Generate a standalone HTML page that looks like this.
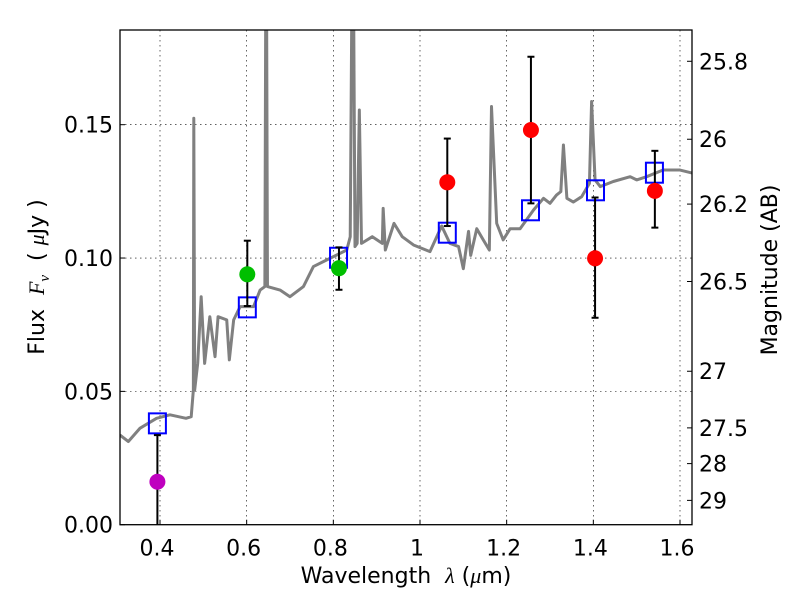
<!DOCTYPE html>
<html><head><meta charset="utf-8"><style>
body{margin:0;background:#fff}
svg{display:block;font-family:"DejaVu Sans","Liberation Sans",sans-serif}
</style></head><body>
<svg id="chart" width="800" height="600" viewBox="0 0 800 600" xmlns="http://www.w3.org/2000/svg">
<rect x="0" y="0" width="800" height="600" fill="#fff"/>
<g id="grid"></g>
<g id="plot"></g>
<rect x="120" y="30" width="572" height="494.7" fill="none" stroke="#000" stroke-width="1.3"/>
<g id="ticks"></g>
<text x="406" y="583" font-size="22" text-anchor="middle">Wavelength&#160;&#160;<tspan font-family="Liberation Serif" font-style="italic">λ</tspan> (<tspan font-family="Liberation Serif" font-style="italic">μ</tspan>m)</text>
<text transform="translate(44,277) rotate(-90)" font-size="22" text-anchor="middle">Flux&#160;&#160;<tspan font-family="Liberation Serif" font-style="italic">F</tspan><tspan font-family="Liberation Serif" font-style="italic" font-size="15" dy="5">ν</tspan><tspan dy="-5">&#160;&#160;( </tspan><tspan font-family="Liberation Serif" font-style="italic">μ</tspan>Jy )</text>
<text transform="translate(777,270) rotate(-90)" font-size="22" text-anchor="middle">Magnitude (AB)</text>
</svg>
<script>
const xTicks=[0.4,0.6,0.8,1.0,1.2,1.4,1.6];
const xTickLabels=["0.4","0.6","0.8","1","1.2","1.4","1.6"];
const yTicks=[0,0.05,0.10,0.15];
const yTickLabels=["0.00","0.05","0.10","0.15"];
const magTicks=[25.8,26,26.2,26.5,27,27.5,28,29];
const magTickLabels=["25.8","26","26.2","26.5","27","27.5","28","29"];
const specLam=[0.3077,0.327,0.354,0.392,0.423,0.46,0.472,0.477,0.478,0.48,0.487,0.495,0.503,0.515,0.527,0.534,0.554,0.56,0.57,0.585,0.616,0.631,0.642,0.645,0.648,0.677,0.7,0.731,0.754,0.785,0.831,0.839,0.845,0.85,0.855,0.86,0.865,0.89,0.913,0.915,0.92,0.94,0.959,0.985,1.023,1.05,1.069,1.089,1.1,1.112,1.117,1.131,1.146,1.16,1.165,1.177,1.192,1.208,1.231,1.262,1.285,1.3,1.315,1.325,1.331,1.339,1.354,1.373,1.391,1.396,1.404,1.416,1.446,1.485,1.5,1.523,1.561,1.6,1.63];
const specFlux=[0.0336,0.0312,0.0362,0.0399,0.0412,0.0399,0.0405,0.0505,0.1524,0.0505,0.0605,0.0855,0.0605,0.078,0.063,0.078,0.0768,0.0618,0.0768,0.0818,0.0818,0.088,0.0893,0.25,0.0893,0.088,0.0855,0.0893,0.0968,0.0993,0.103,0.108,0.25,0.1043,0.1055,0.1555,0.1055,0.108,0.1055,0.1186,0.103,0.113,0.108,0.1049,0.1024,0.112,0.1055,0.1043,0.096,0.110,0.101,0.111,0.1068,0.103,0.1568,0.113,0.1068,0.111,0.111,0.118,0.1224,0.1205,0.1236,0.1249,0.1424,0.1224,0.121,0.123,0.128,0.1587,0.1293,0.1268,0.1287,0.1305,0.1293,0.1305,0.133,0.133,0.1318];
const ptLam=[0.394,0.6015,0.813,1.063,1.256,1.404,1.542];
const ptFlux=[0.0161,0.0939,0.0962,0.1284,0.148,0.0999,0.1252];
const ptErrHi=[0.0336,0.1065,0.104,0.1448,0.1755,0.1227,0.1402];
const ptErrLo=[-0.01,0.082,0.0881,0.112,0.1205,0.0776,0.1114];
const ptColor=["#bf00bf","#00bf00","#00bf00","#ff0000","#ff0000","#ff0000","#ff0000"];
const modLam=[0.394,0.6015,0.812,1.063,1.255,1.405,1.541];
const modFlux=[0.038,0.0815,0.1001,0.1095,0.1179,0.1254,0.132];

const NS="http://www.w3.org/2000/svg";
const L=120,R=692,T=30,B=524.7;
const X=v=>160+(v-0.4)*433.33;
const Y=v=>B-v*2666.7;
const M=m=>Y(Math.pow(10,(23.9-m)/2.5));
function mk(tag,attrs,parent,txt){const e=document.createElementNS(NS,tag);for(const k in attrs)e.setAttribute(k,attrs[k]);if(txt!==undefined)e.textContent=txt;parent.appendChild(e);return e;}
const grid=document.getElementById('grid'),plot=document.getElementById('plot'),ticks=document.getElementById('ticks');
xTicks.forEach((t,i)=>{
  const g=mk('line',{x1:X(t),x2:X(t),y1:T,y2:B,stroke:'#000','stroke-width':0.6,'stroke-dasharray':'1.5,3.5'},grid);
  
  
  const tk=mk('line',{x1:X(t),x2:X(t),y1:B,y2:B-5,stroke:'#000','stroke-width':1},ticks);
  
  
  const lb=mk('text',{x:X(t)-3,y:B+31,'font-size':22,'text-anchor':'middle'},ticks,xTickLabels[i]);
  
  
});
yTicks.forEach((t,i)=>{
  if(t>0){const g=mk('line',{x1:L,x2:R,y1:Y(t),y2:Y(t),stroke:'#000','stroke-width':0.6,'stroke-dasharray':'1.5,3.5'},grid);
  
  }
  const tk=mk('line',{x1:L,x2:L+5,y1:Y(t),y2:Y(t),stroke:'#000','stroke-width':1},ticks);
  
  
  const lb=mk('text',{x:L-7,y:Y(t)+8,'font-size':22,'text-anchor':'end'},ticks,yTickLabels[i]);
  
  
});
magTicks.forEach((m,i)=>{
  const tk=mk('line',{x1:R,x2:R-5,y1:M(m),y2:M(m),stroke:'#000','stroke-width':1},ticks);
  
  
  const lb=mk('text',{x:R+7,y:M(m)+8,'font-size':22},ticks,magTickLabels[i]);
  
  
});
const clip=mk('clipPath',{id:'cp'},plot);mk('rect',{x:L,y:T,width:R-L,height:B-T},clip);
const g=mk('g',{'clip-path':'url(#cp)'},plot);
const sp=mk('polyline',{points:specLam.map((l,i)=>X(l)+','+Y(specFlux[i])).join(' '),fill:'none',stroke:'#808080','stroke-width':3,'stroke-linejoin':'round'},g);


modLam.forEach((l,i)=>{
  const s=mk('rect',{x:X(l)-8.5,y:Y(modFlux[i])-10,width:17,height:20,fill:'none',stroke:'#0000ff','stroke-width':2},g);
  
  
});
ptLam.forEach((l,i)=>{
  const x=X(l);
  const e=mk('line',{x1:x,x2:x,y1:Y(ptErrHi[i]),y2:Y(ptErrLo[i]),stroke:'#000','stroke-width':2},g);
  
  
  [ptErrHi[i],ptErrLo[i]].forEach(v=>{const c=mk('line',{x1:x-3.5,x2:x+3.5,y1:Y(v),y2:Y(v),stroke:'#000','stroke-width':2},g);
    
    });
  const p=mk('circle',{cx:x,cy:Y(ptFlux[i]),r:8,fill:ptColor[i]},g);
  
  
});
</script>
</body></html>
